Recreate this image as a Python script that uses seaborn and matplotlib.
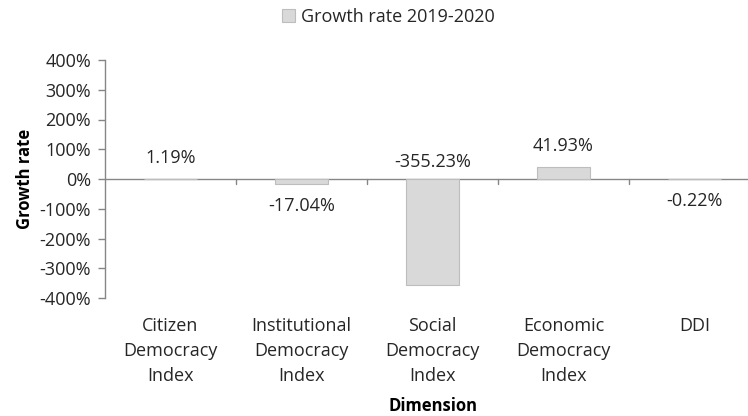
import matplotlib
matplotlib.use("Agg")
import matplotlib.pyplot as plt
from matplotlib.patches import Patch
from matplotlib.ticker import FuncFormatter, MultipleLocator
import seaborn as sns
import pandas as pd

# Growth rate of each democracy dimension, 2019-2020 (percent)
categories = ["Citizen\nDemocracy\nIndex", "Institutional\nDemocracy\nIndex",
              "Social\nDemocracy\nIndex", "Economic\nDemocracy\nIndex", "DDI"]
growth = [1.19, -17.04, -355.23, 41.93, -0.22]
series_name = "Growth rate 2019-2020"

sns.set_theme(style="white")
plt.rcParams["font.family"] = ["Open Sans", "DejaVu Sans"]

text_col = "#262626"
axis_col = "#868686"
bar_col = "#d9d9d9"
fs = 13

df = pd.DataFrame({"Dimension": categories, "Growth": growth})

fig = plt.figure(figsize=(7.48, 4.16), dpi=100)
ax = fig.add_axes([105 / 748, 1 - 298 / 416, 655 / 748, 238 / 416])

sns.barplot(data=df, x="Dimension", y="Growth", ax=ax, color=bar_col,
            width=0.4, edgecolor="#bdbdbd", linewidth=0.8, saturation=1)
for p in ax.patches:
    p.set_zorder(2)

ax.set_ylim(-400, 400)
ax.set_xlim(-0.5, 4.5)
ax.yaxis.set_major_locator(MultipleLocator(100))
ax.yaxis.set_major_formatter(FuncFormatter(lambda v, p: f"{v:.0f}%"))

for s in ["top", "right", "bottom"]:
    ax.spines[s].set_visible(False)
ax.spines["left"].set_color(axis_col)
ax.spines["left"].set_linewidth(1)

ax.tick_params(axis="y", length=5, width=1, color=axis_col, direction="out",
               labelsize=fs, labelcolor=text_col, pad=5, left=True)
ax.tick_params(axis="x", length=0, labelsize=fs, labelcolor=text_col, pad=14,
               bottom=True)
for lbl in ax.get_xticklabels():
    lbl.set_linespacing(1.5)

# category axis crossing at zero, with boundary ticks between categories
ax.axhline(0, color=axis_col, lw=1, zorder=1)
tick_len = 5 * 800 / 238
for b in [0.5, 1.5, 2.5, 3.5]:
    ax.plot([b, b], [0, -tick_len], color=axis_col, lw=1, clip_on=False, zorder=1)

# value labels
for i, v in enumerate(growth):
    if v >= 0 or v < -300:
        off = 21 if v >= 0 else 17
        ax.annotate(f"{v:.2f}%", (i, max(v, 0)), xytext=(0, off * 0.72),
                    textcoords="offset points", ha="center", va="center",
                    fontsize=fs, color=text_col)
    else:
        ax.annotate(f"{v:.2f}%", (i, v), xytext=(0, -22 * 0.72),
                    textcoords="offset points", ha="center", va="center",
                    fontsize=fs, color=text_col)

ax.set_xlabel("Dimension", fontsize=12, fontweight="bold", color="black",
              labelpad=8)
ax.set_ylabel("Growth rate", fontsize=12, fontweight="bold", color="black",
              labelpad=4)

handle = Patch(facecolor=bar_col, edgecolor="#bdbdbd", linewidth=0.8)
fig.legend([handle], [series_name], loc="center", bbox_to_anchor=(388 / 748, 1 - 17 / 416),
           frameon=False, fontsize=fs, labelcolor=text_col, handlelength=0.75,
           handleheight=0.75, handletextpad=0.3, borderpad=0)

fig.savefig("out.png", dpi=100)
